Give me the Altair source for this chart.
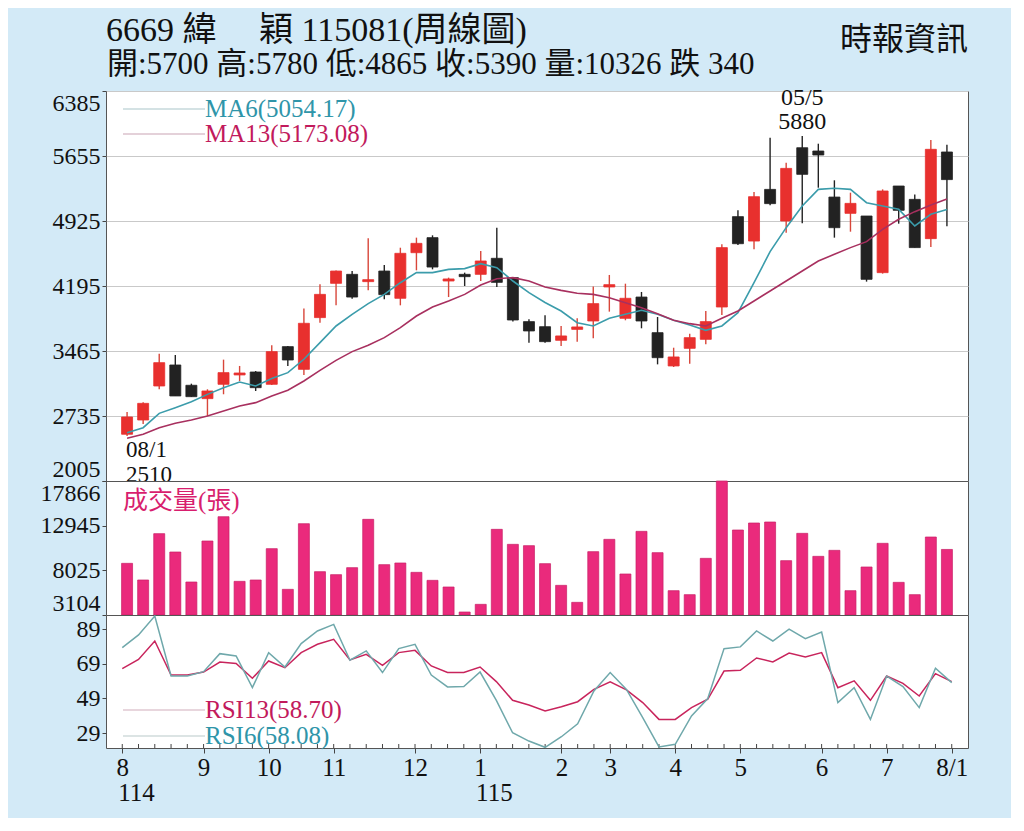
import altair as alt
import pandas as pd

# ---------------- data ----------------
opens = [2530, 2690, 3072, 3308, 3080, 2930, 3091, 3196, 3229, 3091, 3514, 3259, 3840,
         4225, 4326, 4244, 4363, 4057, 4569, 4738, 4251, 4326, 4326, 4506, 4289, 3795,
         3738, 3585, 3708, 3802, 4184, 3832, 4071, 3671, 3297, 3495, 3596, 3959, 4974,
         4700, 5280, 4925, 5748, 5711, 5194, 5011, 4981, 4345, 5318, 5168, 4727, 5700]
highs = [2780, 2890, 3435, 3420, 3098, 3035, 3368, 3297, 3240, 3529, 3521, 3941, 4214,
         4370, 4363, 4730, 4431, 4625, 4738, 4764, 4289, 4345, 4588, 4850, 4296, 3821,
         3866, 3746, 3832, 4188, 4319, 4221, 4128, 3847, 3502, 3660, 3914, 4663, 5045,
         5251, 5860, 5580, 5880, 5793, 5382, 5243, 4981, 5280, 5318, 5224, 5834, 5780]
lows = [2510, 2645, 3035, 2960, 2950, 2735, 2979, 3128, 3016, 3083, 3297, 3196, 3783,
        3978, 4053, 4146, 4045, 3978, 4371, 4382, 4071, 4195, 4251, 4184, 3795, 3559,
        3559, 3521, 3570, 3607, 3907, 3810, 3720, 3315, 3285, 3323, 3540, 3869, 4655,
        4607, 5101, 4794, 4899, 5299, 4738, 4805, 4244, 4334, 4895, 4626, 4633, 4865]
closes = [2724, 2877, 3334, 2960, 2952, 3016, 3222, 3218, 3053, 3458, 3364, 3776, 4101,
          4363, 4071, 4266, 4098, 4562, 4674, 4408, 4274, 4300, 4476, 4236, 3813, 3690,
          3570, 3634, 3735, 3997, 4210, 4057, 3802, 3390, 3398, 3615, 3795, 4626, 4670,
          5198, 5120, 5516, 5449, 5666, 4850, 5123, 4270, 5262, 5045, 4626, 5730, 5390]
volumes = [8796, 6960, 12064, 10044, 6739, 11256, 13936, 6813, 6960, 10411, 5931, 13165,
           7877, 7547, 8318, 13643, 8649, 8833, 7804, 6923, 6189, 3434, 4279, 12541,
           10889, 10742, 8759, 6372, 4499, 10081, 11440, 7621, 12321, 9971, 5784, 5344,
           9346, 17866, 12467, 13238, 13349, 9090, 12101, 9567, 10227, 5784, 8392, 11000,
           6703, 5344, 11696, 10326]
ma6 = [2548, 2604, 2765, 2829, 2896, 2978, 3053, 3117, 3072, 3155, 3222, 3372, 3559,
       3746, 3877, 3997, 4101, 4232, 4345, 4345, 4382, 4390, 4446, 4401, 4251, 4120,
       4010, 3914, 3783, 3746, 3832, 3877, 3922, 3877, 3810, 3757, 3697, 3746, 3896,
       4232, 4581, 4850, 5093, 5280, 5292, 5280, 5131, 5093, 5056, 4869, 5000, 5054.17]
ma13 = [2485, 2529, 2604, 2653, 2690, 2735, 2791, 2848, 2885, 2960, 3024, 3128, 3248,
        3360, 3458, 3529, 3615, 3727, 3858, 3959, 4027, 4101, 4206, 4277, 4289, 4251,
        4184, 4146, 4113, 4101, 4064, 4008, 3952, 3884, 3810, 3772, 3746, 3832, 3914,
        4027, 4139, 4251, 4363, 4476, 4551, 4626, 4693, 4831, 4944, 5030, 5105, 5173.08]
rsi6 = [78.3, 85.6, 96.5, 61.9, 61.9, 64.4, 74.8, 73.5, 55.2, 75.4, 67.1, 80.6, 87.9,
        91.7, 71.0, 76.4, 63.9, 77.7, 80.2, 62.5, 55.6, 55.8, 64.2, 47.9, 29.2, 24.4,
        20.8, 26.9, 34.4, 53.3, 63.9, 54.2, 37.9, 21.0, 22.5, 38.9, 48.9, 77.7, 78.7,
        87.9, 82.1, 88.9, 83.5, 87.3, 46.6, 55.2, 36.9, 61.9, 55.8, 43.7, 66.4, 58.08]
rsi13 = [66.2, 71.5, 82.1, 62.5, 62.5, 64.2, 70.0, 69.2, 60.6, 70.6, 66.7, 75.4, 80.2,
         83.1, 71.2, 74.4, 68.1, 75.4, 76.7, 67.7, 63.9, 63.9, 67.1, 58.7, 47.9, 45.2,
         41.7, 44.2, 47.1, 54.2, 58.5, 53.9, 46.6, 36.9, 36.9, 43.7, 48.5, 64.8, 65.2,
         72.3, 70.0, 75.2, 72.9, 75.4, 55.2, 59.1, 47.9, 61.9, 57.7, 50.4, 63.3, 58.70]

month_idx = [0, 5, 9, 13, 18, 22, 27, 30, 34, 38, 43, 47, 51]
month_lbl = ['8', '9', '10', '11', '12', '1', '2', '3', '4', '5', '6', '7', '8/1']
year_idx = [0, 22]
year_lbl = ['114', '115']

price_ticks = [2005, 2735, 3465, 4195, 4925, 5655, 6385]
vol_ticks = [3104, 8025, 12945, 17866]
rsi_ticks = [29, 49, 69, 89]
rsi_domain = [20.4, 97.1]

title1 = '6669   緯　 穎 115081(周線圖)'
title2 = '開:5700 高:5780 低:4865 收:5390 量:10326 跌 340'
source = '時報資訊'
vol_label = '成交量(張)'
hi_idx, hi_date = 42, '05/5'
lo_idx, lo_date = 0, '08/1'

# ---------------- styles ----------------
W, PH, VH, RH = 862, 390, 134, 133
BG = '#d3eaf7'
RED, BLACK = '#e8302e', '#222222'
RED_WICK = '#d8463a'
TEAL, MAG = '#3b9cab', '#a8305f'
RSI_MAG, RSI_TEAL = '#c8245c', '#6fa8ab'
VOLC = '#ea2a7c'
FONT = 'Liberation Serif'
CJK = "'Liberation Serif', 'Noto Sans CJK TC', 'Noto Sans CJK SC'"

n = len(closes)
df = pd.DataFrame({
    'i': list(range(n)), 'open': opens, 'high': highs, 'low': lows, 'close': closes,
    'vol': volumes, 'ma6': ma6, 'ma13': ma13, 'rsi6': rsi6, 'rsi13': rsi13,
})
df['dir'] = ['up' if c >= o else 'down' for o, c in zip(opens, closes)]

xs = alt.Scale(domain=[-1, n], nice=False, zero=False)
ps = alt.Scale(domain=[price_ticks[0], price_ticks[-1]], nice=False, zero=False)
vs = alt.Scale(domain=[vol_ticks[0], vol_ticks[-1]], nice=False, zero=False)
rs = alt.Scale(domain=rsi_domain, nice=False, zero=False)
body_cs = alt.Scale(domain=['up', 'down'], range=[RED, BLACK])
wick_cs = alt.Scale(domain=['up', 'down'], range=[RED_WICK, BLACK])


def yaxis(values, grid=False, flush=True):
    return alt.Axis(values=values, format='d', grid=grid, gridColor='#c9c9c9', gridWidth=1,
                    domain=False, ticks=True, tickSize=4, tickColor='#444',
                    labelPadding=2, labelFont=FONT, labelFontSize=24, labelColor='#111',
                    labelFlush=flush, labelOverlap=False, title=None)


X0 = alt.X('i:Q', scale=xs, axis=None)
base = alt.Chart(df)

# ---------------- price panel ----------------
wick = base.mark_rule(strokeWidth=1.4).encode(
    x=X0,
    y=alt.Y('low:Q', scale=ps, axis=yaxis(price_ticks, grid=True)),
    y2='high:Q',
    color=alt.Color('dir:N', scale=wick_cs, legend=None),
)
body = base.mark_bar(size=11, strokeWidth=0.8).encode(
    x=X0,
    y=alt.Y('open:Q', scale=ps, title=None),
    y2='close:Q',
    fill=alt.Fill('dir:N', scale=body_cs, legend=None),
    stroke=alt.Stroke('dir:N', scale=body_cs, legend=None),
)
l_ma6 = base.mark_line(color=TEAL, strokeWidth=1.6).encode(
    x=X0, y=alt.Y('ma6:Q', scale=ps, title=None))
l_ma13 = base.mark_line(color=MAG, strokeWidth=1.6).encode(
    x=X0, y=alt.Y('ma13:Q', scale=ps, title=None))

one = pd.DataFrame({'k': [0]})


def legend_item(label, color, line_color, y, x_text=99):
    ln = alt.Chart(one).mark_rule(color=line_color, strokeWidth=1.2).encode(
        x=alt.value(17), x2=alt.value(x_text), y=alt.value(y))
    tx = alt.Chart(pd.DataFrame({'t': [label]})).mark_text(
        align='left', baseline='middle', font=FONT, fontSize=25, color=color
    ).encode(x=alt.value(x_text), y=alt.value(y), text='t:N')
    return [ln, tx]


def ann(idx, val, label, dy, align, baseline, dx=0, size=24):
    return alt.Chart(pd.DataFrame({'i': [idx], 'p': [val], 't': [label]})).mark_text(
        dy=dy, dx=dx, align=align, baseline=baseline, font=FONT, fontSize=size,
        color='#111').encode(
        x=X0, y=alt.Y('p:Q', scale=ps, title=None), text='t:N')


def free_text(label, x, y, size, align='left', font=CJK, color='#111', baseline='top'):
    return alt.Chart(pd.DataFrame({'t': [label]})).mark_text(
        align=align, baseline=baseline, font=font, fontSize=size, color=color
    ).encode(x=alt.value(x), y=alt.value(y), text='t:N')


price_layers = [wick, body, l_ma6, l_ma13]
price_layers += legend_item(f'MA6({ma6[-1]:.2f})', '#2f95a9', '#a9c6ca', 18)
price_layers += legend_item(f'MA13({ma13[-1]:.2f})', '#c21a5c', '#c9a3b3', 43)
price_layers += [
    ann(hi_idx, highs[hi_idx], str(highs[hi_idx]), -7, 'center', 'alphabetic'),
    ann(hi_idx, highs[hi_idx], hi_date, -31, 'center', 'alphabetic'),
    ann(lo_idx, lows[lo_idx], lo_date, 3, 'left', 'top', dx=-1, size=23),
    ann(lo_idx, lows[lo_idx], str(lows[lo_idx]), 28, 'left', 'top', dx=-1, size=23),
    free_text(title1, 0, -77, 34),
    free_text(title2, 1, -41, 31),
    free_text(source, W, -66, 32, align='right', font="'Noto Sans CJK TC'"),
]
price = alt.layer(*price_layers).properties(width=W, height=PH)

# ---------------- volume panel ----------------
vbars = base.mark_bar(size=11, color=VOLC, stroke='#c81e66', strokeWidth=0.7).encode(
    x=X0,
    y=alt.Y('vol:Q', scale=vs, axis=yaxis(vol_ticks)),
    y2=alt.datum(vol_ticks[0]),
)
vtext = free_text(vol_label, 17, 20, 25, color='#d81e6e', baseline='middle')
volume = alt.layer(vbars, vtext).properties(width=W, height=VH)

# ---------------- RSI panel ----------------
label_expr = ' : '.join(f"datum.value == {i} ? '{l}'" for i, l in zip(month_idx, month_lbl)) + " : ''"
x_axis = alt.Axis(values=month_idx, labelExpr=label_expr, grid=False, domain=False,
                  ticks=True, tickSize=5, tickColor='#444', labelPadding=2,
                  labelFont=FONT, labelFontSize=25, labelColor='#111',
                  labelFlush=False, labelOverlap=False, labelBound=False, title=None)
r6 = base.mark_line(color=RSI_TEAL, strokeWidth=1.5).encode(
    x=alt.X('i:Q', scale=xs, axis=x_axis),
    y=alt.Y('rsi6:Q', scale=rs, axis=yaxis(rsi_ticks, flush=False)),
)
r13 = base.mark_line(color=RSI_MAG, strokeWidth=1.5).encode(
    x=alt.X('i:Q', scale=xs), y=alt.Y('rsi13:Q', scale=rs, title=None))
minor = base.mark_rule(color='#444', strokeWidth=1).encode(
    x=alt.X('i:Q', scale=xs), y=alt.value(RH - 4), y2=alt.value(RH))
years = alt.Chart(pd.DataFrame({'i': year_idx, 't': year_lbl})).mark_text(
    align='left', baseline='top', dx=-4, font=FONT, fontSize=25, color='#111'
).encode(x=alt.X('i:Q', scale=xs), y=alt.value(RH + 33), text='t:N')

rsi_layers = [minor, r13, r6, years]
rsi_layers += legend_item(f'RSI13({rsi13[-1]:.2f})', '#c21a5c', '#d2adbb', 95)
rsi_layers += legend_item(f'RSI6({rsi6[-1]:.2f})', '#2f95a9', '#b9c9ca', 121)
rsi = alt.layer(*rsi_layers).properties(width=W, height=RH)

chart = alt.vconcat(price, volume, rsi, spacing=0, bounds='flush').properties(
    background=BG,
    padding={'left': 31, 'top': 5, 'right': 42, 'bottom': 11},
).configure_view(stroke='#555', strokeWidth=1, fill='white')

chart.save('out.html', embed_options={'renderer': 'svg', 'actions': False})
